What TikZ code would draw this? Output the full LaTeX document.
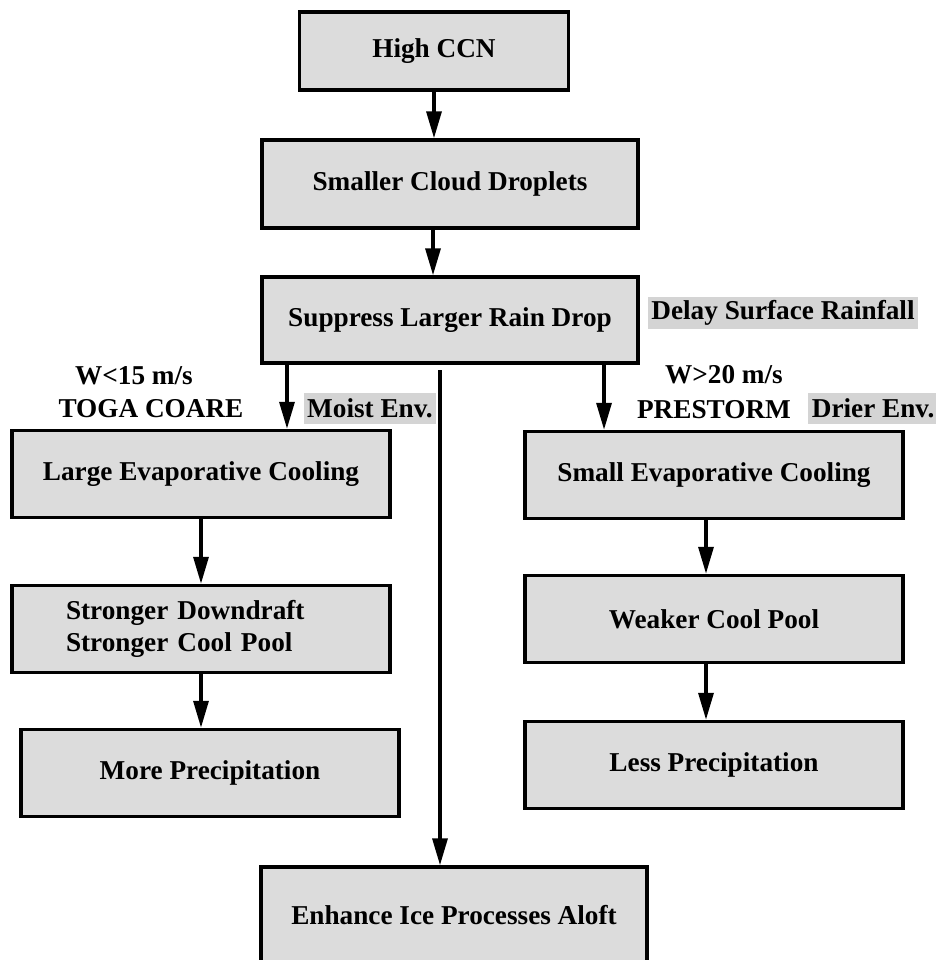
\documentclass[tikz,border=0pt]{standalone}
\usepackage{fontspec}
\setmainfont{Liberation Serif}
\usetikzlibrary{arrows.meta}
\definecolor{boxgray}{HTML}{DCDCDC}
\definecolor{labelgray}{HTML}{D4D4D4}

\begin{document}
\begin{tikzpicture}[x=0.02cm,y=-0.02cm,
  boite/.style={draw,line width=2pt,fill=boxgray,inner sep=0pt,
    minimum width=7.56cm,minimum height=1.74cm,
    font=\bfseries\fontsize{15.5}{18.5}\selectfont},
  etiq/.style={inner sep=2pt,font=\bfseries\fontsize{15.5}{18.5}\selectfont},
  grise/.style={etiq,fill=labelgray,minimum height=0.62cm},
  fleche/.style={line width=1.9pt,-{Triangle[length=0.54cm,width=0.3cm]}}]
  \useasboundingbox (0,0) rectangle (936,960);
  \clip (0,0) rectangle (936,960);
  % boites du haut
  \node[boite,minimum width=5.38cm,minimum height=1.56cm] (ccn) at (434,51) {High CCN};
  \node[boite,minimum width=7.52cm,minimum height=1.76cm] (drop) at (450,184) {Smaller Cloud Droplets};
  \node[boite,minimum width=7.52cm,minimum height=1.72cm] (supp) at (450,320) {Suppress Larger Rain Drop};
  % branche gauche
  \node[boite] (large) at (201,474) {Large Evaporative Cooling};
  \node[boite,align=left,text width=5.4cm] (strong) at (201,629) {Stronger Downdraft\\Stronger Cool Pool};
  \node[boite] (more) at (210,773) {More Precipitation};
  % branche droite
  \node[boite] (small) at (714,475) {Small Evaporative Cooling};
  \node[boite] (weak) at (714,619) {Weaker Cool Pool};
  \node[boite] (less) at (714,765) {Less Precipitation};
  % en bas
  \node[boite,minimum width=7.72cm,minimum height=1.92cm] (ice) at (454,915) {Enhance Ice Processes Aloft};
  % etiquettes
  \node[grise] (delay) at (783,313) {Delay Surface Rainfall};
  \node[etiq] (wlow) at (134,376) {W<15 m/s};
  \node[etiq] (toga) at (151,409) {TOGA COARE};
  \node[grise] (moist) at (370,408) {Moist Env.};
  \node[etiq] (whigh) at (724,375) {W>20 m/s};
  \node[etiq] (prestorm) at (714,410) {PRESTORM};
  \node[grise,anchor=west] (drier) at (808,408) {Drier Env.};
  % points de depart
  \coordinate (gauche) at ([xshift=1.72cm]large.north);
  \coordinate (droite) at ([xshift=-2.2cm]small.north);
  \coordinate (milieu) at (440,370);
  % fleches
  \draw[fleche] (ccn.south) -- (ccn.south |- drop.north);
  \draw[fleche] ([xshift=-0.34cm]drop.south) -- ([xshift=-0.34cm]supp.north);
  \draw[fleche] (gauche |- supp.south) -- (gauche);
  \draw[fleche] (droite |- supp.south) -- (droite);
  \draw[fleche] (milieu) -- (milieu |- ice.north); % vers la glace
  \draw[fleche] (large.south) -- (strong.north);
  \draw[fleche] (strong.south) -- (strong.south |- more.north);
  \draw[fleche] ([xshift=-0.16cm]small.south) -- ([xshift=-0.16cm]weak.north);
  \draw[fleche] ([xshift=-0.16cm]weak.south) -- ([xshift=-0.16cm]less.north);
\end{tikzpicture}
\end{document}
